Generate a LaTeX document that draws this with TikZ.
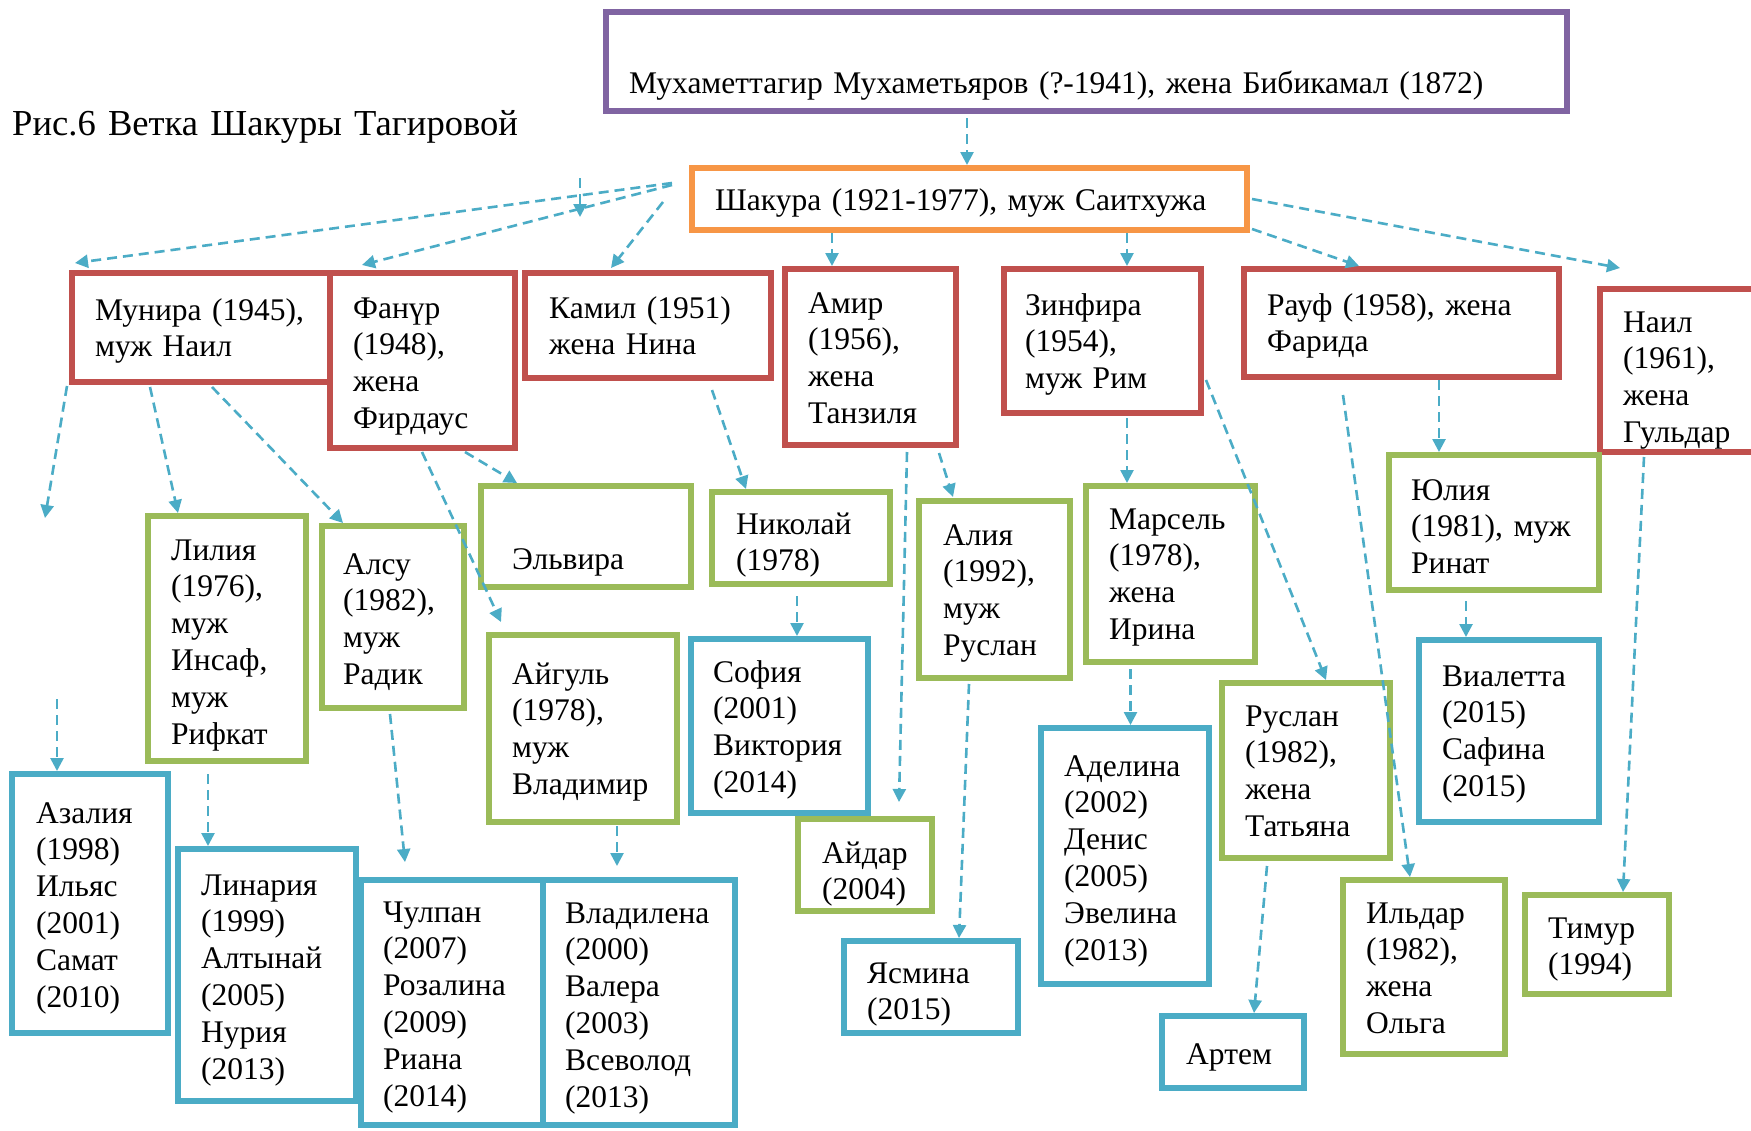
\documentclass[tikz,border=0pt]{standalone}
\usepackage{fontspec}
\setmainfont{Liberation Serif}
\usetikzlibrary{arrows.meta}
\definecolor{cPurple}{HTML}{8064A2}
\definecolor{cOrange}{HTML}{F79646}
\definecolor{cRed}{HTML}{C0504D}
\definecolor{cGreen}{HTML}{9BBB59}
\definecolor{cBlue}{HTML}{4BACC6}
\begin{document}
\begin{tikzpicture}[x=1pt,y=-1pt,
 box/.style={draw=#1,line width=6,outer sep=0,inner sep=0},
 txt/.style={anchor=base west,inner sep=0,text width=900,align=left,font=\fontsize{31.5}{36.8}\selectfont},
 arr/.style={cBlue,line width=2.6,dash pattern=on 10 off 6,-{Triangle[length=13,width=13]}}]
\useasboundingbox (0,0) rectangle (1751,1130);
\fill[white] (0,0) rectangle (1751,1130);
\clip (0,0) rectangle (1751,1130);

\node[txt,font=\fontsize{36.6}{42}\selectfont] (title) at (12,135) {Рис.6 Ветка Шакуры Тагировой};

% generations 1 and 2
\node[txt] (topT) at (629,93) {Мухаметтагир Мухаметьяров (?-1941), жена Бибикамал (1872)};
\node[box=cPurple,minimum width=961,minimum height=99] (top) at (1086.5,61.5) {};
\node[txt] (shakuraT) at (715,210) {Шакура (1921-1977), муж Саитхужа};
\node[box=cOrange,minimum width=555,minimum height=62] (shakura) at (969.5,199) {};

% children
\node[txt] (muniraT) at (95,320) {Мунира (1945),\\муж Наил};
\node[box=cRed,minimum width=258,minimum height=109] (munira) at (201,327.5) {};
\node[txt] (fanurT) at (353,318) {Фанүр\\(1948),\\жена\\Фирдаус};
\node[box=cRed,minimum width=185,minimum height=175] (fanur) at (422.5,360.5) {};
\node[txt] (kamilT) at (549,318) {Камил (1951)\\жена Нина};
\node[box=cRed,minimum width=246,minimum height=105] (kamil) at (648,325.5) {};
\node[txt] (amirT) at (808,313) {Амир\\(1956),\\жена\\Танзиля};
\node[box=cRed,minimum width=171,minimum height=176] (amir) at (870.5,357) {};
\node[txt] (zinfiraT) at (1025,315) {Зинфира\\(1954),\\муж Рим};
\node[box=cRed,minimum width=197,minimum height=144] (zinfira) at (1102.5,341) {};
\node[txt] (raufT) at (1267,315) {Рауф (1958), жена\\Фарида};
\node[box=cRed,minimum width=315,minimum height=108] (rauf) at (1401.5,323) {};
\node[txt] (nailT) at (1623,332) {Наил\\(1961),\\жена\\Гульдар};
\node[box=cRed,minimum width=190,minimum height=163] (nail) at (1695,370.5) {};

% grandchildren
\node[txt] (liliaT) at (171,560) {Лилия\\(1976),\\муж\\Инсаф,\\муж\\Рифкат};
\node[box=cGreen,minimum width=158,minimum height=245] (lilia) at (227,638.5) {};
\node[txt] (alsuT) at (343,574) {Алсу\\(1982),\\муж\\Радик};
\node[box=cGreen,minimum width=142.5,minimum height=182] (alsu) at (392.75,617) {};
\node[txt] (elviraT) at (512,569) {Эльвира};
\node[box=cGreen,minimum width=210,minimum height=101] (elvira) at (586,536.5) {};
\node[txt] (nikolayT) at (736,534) {Николай\\(1978)};
\node[box=cGreen,minimum width=178,minimum height=92] (nikolay) at (801,538) {};
\node[txt] (aygulT) at (512,684) {Айгуль\\(1978),\\муж\\Владимир};
\node[box=cGreen,minimum width=188,minimum height=187] (aygul) at (583,728.5) {};
\node[txt] (aidarT) at (822,863) {Айдар\\(2004)};
\node[box=cGreen,minimum width=134,minimum height=92] (aidar) at (865,865) {};
\node[txt] (aliaT) at (943,545) {Алия\\(1992),\\муж\\Руслан};
\node[box=cGreen,minimum width=151,minimum height=177] (alia) at (994.5,589.5) {};
\node[txt] (marselT) at (1109,529) {Марсель\\(1978),\\жена\\Ирина};
\node[box=cGreen,minimum width=169,minimum height=176] (marsel) at (1170.5,574) {};
\node[txt] (yuliaT) at (1411,500) {Юлия\\(1981), муж\\Ринат};
\node[box=cGreen,minimum width=210,minimum height=135] (yulia) at (1494,522.5) {};
\node[txt] (ruslanT) at (1245,726) {Руслан\\(1982),\\жена\\Татьяна};
\node[box=cGreen,minimum width=168,minimum height=175] (ruslan) at (1306,770.5) {};
\node[txt] (ildarT) at (1366,923) {Ильдар\\(1982),\\жена\\Ольга};
\node[box=cGreen,minimum width=162,minimum height=174] (ildar) at (1424,967) {};
\node[txt] (timurT) at (1548,938) {Тимур\\(1994)};
\node[box=cGreen,minimum width=144,minimum height=99] (timur) at (1597,944.5) {};

% great-grandchildren
\node[txt] (sofiaT) at (713,682) {София\\(2001)\\Виктория\\(2014)};
\node[box=cBlue,minimum width=177,minimum height=174] (sofia) at (779.5,726) {};
\node[txt] (azaliaT) at (36,823) {Азалия\\(1998)\\Ильяс\\(2001)\\Самат\\(2010)};
\node[box=cBlue,minimum width=156,minimum height=259] (azalia) at (89.5,903.5) {};
\node[txt] (linariaT) at (201,895) {Линария\\(1999)\\Алтынай\\(2005)\\Нурия\\(2013)};
\node[box=cBlue,minimum width=178,minimum height=252] (linaria) at (267,975) {};
\node[txt] (chulpanT) at (383,922) {Чулпан\\(2007)\\Розалина\\(2009)\\Риана\\(2014)};
\node[box=cBlue,minimum width=182,minimum height=245] (chulpan) at (451.5,1002.5) {};
\node[txt] (vladilenaT) at (565,923) {Владилена\\(2000)\\Валера\\(2003)\\Всеволод\\(2013)};
\node[box=cBlue,minimum width=192.5,minimum height=245] (vladilena) at (638.75,1002.5) {};
\node[txt] (yasminaT) at (867,983) {Ясмина\\(2015)};
\node[box=cBlue,minimum width=174,minimum height=92] (yasmina) at (931,987) {};
\node[txt] (adelinaT) at (1064,776) {Аделина\\(2002)\\Денис\\(2005)\\Эвелина\\(2013)};
\node[box=cBlue,minimum width=168,minimum height=256] (adelina) at (1125,856) {};
\node[txt] (vialettaT) at (1442,686) {Виалетта\\(2015)\\Сафина\\(2015)};
\node[box=cBlue,minimum width=180,minimum height=182] (vialetta) at (1509,731) {};
\node[txt] (artemT) at (1186,1064) {Артем};
\node[box=cBlue,minimum width=142,minimum height=72] (artem) at (1233,1052) {};

% arrows
\coordinate (stray1) at (580,178);
\coordinate (stray1e) at (580,217);
\coordinate (stray2) at (45,518);
\coordinate (stray3) at (57,699);
\draw[arr] ([shift={(-119.5,7)}]top.south) -- ([shift={(-2.5,-3)}]shakura.north);
\draw[arr] ([shift={(-20,-16)}]shakura.west) -- ([shift={(3,-10)}]munira.north west);
\draw[arr] ([shift={(-20,-14)}]shakura.west) -- ([shift={(-60.5,-8)}]fanur.north);
\draw[arr] (stray1) -- (stray1e);
\draw[arr] ([shift={(-29,3)}]shakura.west) -- ([shift={(-37,-5)}]kamil.north);
\draw[arr] ([shift={(-137.5,3)}]shakura.south) -- ([shift={(-38.5,-3)}]amir.north);
\draw[arr] ([shift={(157.5,3)}]shakura.south) -- ([shift={(24.5,-3)}]zinfira.north);
\draw[arr] ([shift={(5,30)}]shakura.east) -- ([shift={(-42.5,-3)}]rauf.north);
\draw[arr] ([shift={(5,0)}]shakura.east) -- ([shift={(20,-21)}]nail.north west);
\draw[arr] ([shift={(-5,4)}]munira.south west) -- (stray2);
\draw[arr] ([shift={(-51,5)}]munira.south) -- ([shift={(-49,-3)}]lilia.north);
\draw[arr] ([shift={(11,5)}]munira.south) -- ([shift={(-49.75,-3)}]alsu.north);
\draw[arr] ([shift={(-0.5,4)}]fanur.south) -- ([shift={(-82,-13)}]aygul.north);
\draw[arr] ([shift={(42.5,4)}]fanur.south) -- ([shift={(-69,-3)}]elvira.north);
\draw[arr] ([shift={(64,12)}]kamil.south) -- ([shift={(-55,-3)}]nikolay.north);
\draw[arr] ([shift={(36.5,7)}]amir.south) -- ([shift={(34,-17)}]aidar.north);
\draw[arr] ([shift={(68.5,8)}]amir.south) -- ([shift={(-41.5,-4)}]alia.north);
\draw[arr] ([shift={(24.5,5)}]zinfira.south) -- ([shift={(-43.5,-3)}]marsel.north);
\draw[arr] ([shift={(5,-33)}]zinfira.south east) -- ([shift={(20,-3)}]ruslan.north);
\draw[arr] ([shift={(-58.5,18)}]rauf.south) -- ([shift={(-14,-3)}]ildar.north);
\draw[arr] ([shift={(37.5,3)}]rauf.south) -- ([shift={(-55,-3)}]yulia.north);
\draw[arr] ([shift={(-51,5)}]nail.south) -- ([shift={(26,-3)}]timur.north);
\draw[arr] (stray3) -- ([shift={(-32.5,-3)}]azalia.north);
\draw[arr] ([shift={(-19,13)}]lilia.south) -- ([shift={(-59,-3)}]linaria.north);
\draw[arr] ([shift={(-2.75,6)}]alsu.south) -- ([shift={(-46.5,-18)}]chulpan.north);
\draw[arr] ([shift={(34,4)}]aygul.south) -- ([shift={(-21.75,-14)}]vladilena.north);
\draw[arr] ([shift={(-4,12)}]nikolay.south) -- ([shift={(17.5,-3)}]sofia.north);
\draw[arr] ([shift={(-25.5,6)}]alia.south) -- ([shift={(28,-3)}]yasmina.north);
\draw[arr] ([shift={(-40,7)}]marsel.south) -- ([shift={(5.5,-3)}]adelina.north);
\draw[arr] ([shift={(-39,8)}]ruslan.south) -- ([shift={(21,-3)}]artem.north);
\draw[arr] ([shift={(-28,11)}]yulia.south) -- ([shift={(-43,-3)}]vialetta.north);
\end{tikzpicture}
\end{document}
